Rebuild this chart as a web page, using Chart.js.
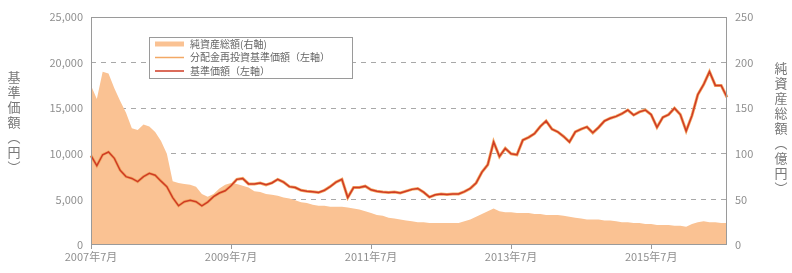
<!DOCTYPE html>
<html lang="ja">
<head>
<meta charset="utf-8">
<script src="https://cdn.jsdelivr.net/npm/chart.js@4/dist/chart.umd.min.js"></script>
<style>
  html, body { margin: 0; padding: 0; background: #fff; }
  #wrap { width: 792px; height: 273px; }
</style>
</head>
<body>
<div id="wrap"><canvas id="fundChart" width="792" height="273"></canvas></div>
<script>
// --- data (monthly, 2007年7月 .. 2016年8月) ---
const START_YEAR = 2007;
const START_MONTH = 7;
const MONTH_COUNT = 110;

// 基準価額（左軸, 円）
const navPrice = [
  9800, 8700, 9900, 10200, 9500, 8200, 7500, 7300, 6950, 7500, 7850, 7650,
  7000, 6400, 5200, 4300, 4750, 4900, 4750, 4300, 4700, 5300, 5700, 5950,
  6500, 7200, 7300, 6700, 6700, 6800, 6600, 6800, 7200, 6900, 6400, 6300,
  6000, 5900, 5850, 5750, 6000, 6400, 6900, 7200, 5200, 6300, 6300, 6450,
  6050, 5900, 5800, 5750, 5800, 5700, 5900, 6100, 6200, 5800, 5250, 5500,
  5600, 5550, 5600, 5600, 5850, 6200, 6800, 8000, 8800, 11300, 9700, 10600,
  10000, 9900, 11500, 11800, 12200, 13000, 13600, 12700, 12400, 11900, 11300, 12400,
  12700, 12950, 12300, 12900, 13600, 13900, 14100, 14400, 14800, 14250, 14600, 14800,
  14300, 12900, 14000, 14300, 15000, 14300, 12500, 14200, 16500, 17600, 19000, 17500,
  17500, 16200
];

// 分配金再投資基準価額（左軸, 円）— 分配実績なしのため基準価額と同じ
const reinvestPrice = navPrice.slice();

// 純資産総額（右軸, 億円）
const netAssets = [
  175, 160, 190, 188, 172, 158, 145, 128, 126, 132, 130, 124,
  114, 100, 70, 68, 67, 66, 64, 56, 53, 56, 62, 66,
  68, 67, 65, 63, 59, 58, 56, 55, 54, 52, 51, 49,
  47, 46, 44, 43, 43, 42, 42, 42, 41, 40, 39, 37,
  35, 33, 32, 30, 29, 28, 27, 26, 25, 25, 24, 24,
  24, 24, 24, 24, 26, 28, 31, 34, 37, 40, 37, 36,
  36, 35, 35, 35, 34, 34, 33, 33, 33, 32, 31, 30,
  29, 28, 28, 28, 27, 27, 26, 25, 25, 24, 24, 23,
  23, 22, 22, 22, 21, 21, 20, 23, 25, 26, 25, 25,
  24, 24
];

const legendLabels = ['純資産総額(右軸)', '分配金再投資基準価額（左軸）', '基準価額（左軸）'];
const leftTitle = ['基', '準', '価', '額', '︵', '円', '︶'];
const rightTitle = ['純', '資', '産', '総', '額', '︵', '億', '円', '︶'];

const monthLabels = [];
for (let i = 0; i < MONTH_COUNT; i++) {
  const m = START_MONTH - 1 + i;
  monthLabels.push(`${START_YEAR + Math.floor(m / 12)}年${(m % 12) + 1}月`);
}

const FONT = '"Noto Sans CJK JP", "Noto Sans", sans-serif';
const GRAY = '#8f8f8f';
const COLOR_ASSETS = '#fac293';
const COLOR_REINVEST = '#f3a865';
const COLOR_PRICE = '#cf3b24';

// --- frame, legend box and vertical axis titles ---
const decorPlugin = {
  id: 'decor',
  afterDraw(chart) {
    const ctx = chart.ctx;
    const a = chart.chartArea;
    ctx.save();
    ctx.strokeStyle = '#9a9a9a';
    ctx.lineWidth = 1;
    ctx.strokeRect(Math.round(a.left) + 0.5, Math.round(a.top) + 0.5,
      Math.round(a.right - a.left) - 1, Math.round(a.bottom - a.top) - 1);

    // legend
    ctx.fillStyle = '#fff';
    ctx.fillRect(149, 37, 204, 42);
    ctx.strokeRect(149.5, 37.5, 203, 41);
    const swatches = [
      { color: COLOR_ASSETS, width: 5 },
      { color: COLOR_REINVEST, width: 1.5 },
      { color: COLOR_PRICE, width: 1.5 }
    ];
    ctx.font = '10px ' + FONT;
    ctx.textBaseline = 'middle';
    legendLabels.forEach((txt, i) => {
      const y = 44 + i * 13.5;
      ctx.strokeStyle = swatches[i].color;
      ctx.lineWidth = swatches[i].width;
      ctx.beginPath();
      ctx.moveTo(155, y);
      ctx.lineTo(184, y);
      ctx.stroke();
      ctx.fillStyle = '#666';
      ctx.fillText(txt, 190, y);
    });

    // axis titles (stacked vertical)
    ctx.fillStyle = '#777';
    ctx.font = '13px ' + FONT;
    ctx.textAlign = 'center';
    leftTitle.forEach((ch, i) => {
      ctx.fillText(ch, 14, 77 + i * 15);
    });
    rightTitle.forEach((ch, i) => {
      ctx.fillText(ch, 781, 68 + i * 15);
    });
    ctx.restore();
  }
};

new Chart(document.getElementById('fundChart'), {
  type: 'line',
  data: {
    labels: monthLabels,
    datasets: [
      {
        label: legendLabels[0],
        data: netAssets,
        yAxisID: 'y1',
        borderColor: COLOR_ASSETS,
        borderWidth: 0,
        backgroundColor: COLOR_ASSETS,
        fill: 'origin',
        pointRadius: 0,
        order: 3
      },
      {
        label: legendLabels[1],
        data: reinvestPrice,
        yAxisID: 'y',
        borderColor: COLOR_REINVEST,
        borderWidth: 3,
        fill: false,
        pointRadius: 0,
        order: 2
      },
      {
        label: legendLabels[2],
        data: navPrice,
        yAxisID: 'y',
        borderColor: COLOR_PRICE,
        borderWidth: 1.5,
        fill: false,
        pointRadius: 0,
        order: 1
      }
    ]
  },
  options: {
    responsive: false,
    animation: false,
    layout: { padding: { top: 17, left: 0, right: 0, bottom: 0 } },
    plugins: {
      legend: { display: false },
      tooltip: { enabled: false }
    },
    scales: {
      x: {
        type: 'category',
        offset: false,
        afterBuildTicks: (scale) => {
          scale.ticks = scale.ticks.filter(t => t.value % 24 === 0);
        },
        afterFit: (scale) => { scale.height = 28; },
        ticks: {
          autoSkip: false,
          maxRotation: 0,
          color: GRAY,
          font: { family: FONT, size: 11 },
          padding: 1
        },
        grid: {
          drawOnChartArea: false,
          drawTicks: true,
          tickLength: 4,
          color: '#9a9a9a'
        },
        border: { display: false }
      },
      y: {
        position: 'left',
        min: 0,
        max: 25000,
        afterFit: (scale) => { scale.width = 91; },
        ticks: {
          stepSize: 5000,
          color: GRAY,
          font: { family: FONT, size: 11 },
          padding: 8,
          callback: (v) => v.toLocaleString('en-US')
        },
        grid: {
          drawTicks: false,
          color: (c) => (c.tick.value > 0 && c.tick.value < 25000) ? '#a8a8a8' : 'rgba(0,0,0,0)'
        },
        border: { display: false, dash: [5, 5] }
      },
      y1: {
        position: 'right',
        min: 0,
        max: 250,
        afterFit: (scale) => { scale.width = 65; },
        ticks: {
          stepSize: 50,
          color: GRAY,
          font: { family: FONT, size: 11 },
          padding: 8
        },
        grid: { drawOnChartArea: false, drawTicks: false },
        border: { display: false }
      }
    }
  },
  plugins: [decorPlugin]
});
</script>
</body>
</html>
